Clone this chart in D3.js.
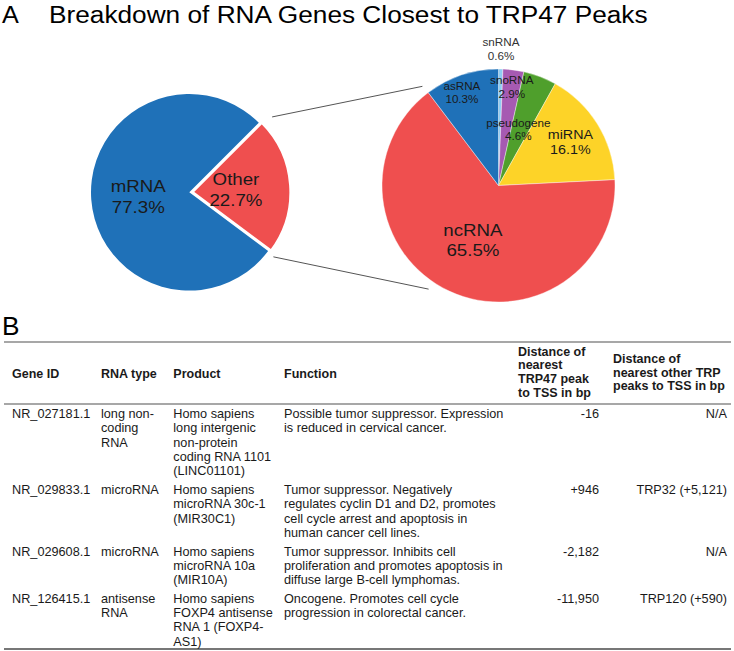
<!DOCTYPE html>
<html>
<head>
<meta charset="utf-8">
<script src="https://cdn.jsdelivr.net/npm/d3@7"></script>
<style>
  html, body { margin: 0; padding: 0; background: #fff; }
  svg { display: block; font-family: "Liberation Sans", Arial, sans-serif; }
</style>
</head>
<body>
<svg id="chart" width="734" height="651"></svg>
<script>
// ---------- DATA ----------
const mainCategories = ["Other", "mRNA"];
const mainValues = [22.7, 77.3];

const otherCategories = ["snRNA", "snoRNA", "pseudogene", "miRNA", "ncRNA", "asRNA"];
const otherValues = [0.6, 2.9, 4.6, 16.1, 65.5, 10.3];

const titleText = "Breakdown of RNA Genes Closest to TRP47 Peaks";

const tableHeaders = [
  ["Gene ID"], ["RNA type"], ["Product"], ["Function"],
  ["Distance of", "nearest", "TRP47 peak", "to TSS in bp"],
  ["Distance of", "nearest other TRP", "peaks to TSS in bp"]
];
const geneIds = ["NR_027181.1", "NR_029833.1", "NR_029608.1", "NR_126415.1"];
const rnaTypes = [["long non-", "coding", "RNA"], ["microRNA"], ["microRNA"], ["antisense", "RNA"]];
const products = [
  ["Homo sapiens", "long intergenic", "non-protein", "coding RNA 1101", "(LINC01101)"],
  ["Homo sapiens", "microRNA 30c-1", "(MIR30C1)"],
  ["Homo sapiens", "microRNA 10a", "(MIR10A)"],
  ["Homo sapiens", "FOXP4 antisense", "RNA 1 (FOXP4-", "AS1)"]
];
const functions = [
  ["Possible tumor suppressor. Expression", "is reduced in cervical cancer."],
  ["Tumor suppressor. Negatively", "regulates cyclin D1 and D2, promotes", "cell cycle arrest and apoptosis in", "human cancer cell lines."],
  ["Tumor suppressor. Inhibits cell", "proliferation and promotes apoptosis in", "diffuse large B-cell lymphomas."],
  ["Oncogene. Promotes cell cycle", "progression in colorectal cancer."]
];
const trp47Distances = ["-16", "+946", "-2,182", "-11,950"];
const otherTrpDistances = ["N/A", "TRP32 (+5,121)", "N/A", "TRP120 (+590)"];

// ---------- STYLE ----------
const svg = d3.select("#chart");
const FONT = '"Liberation Sans", Arial, sans-serif';
const SX = 1.1; // horizontal stretch of the pie/title text

const mainColors = d3.scaleOrdinal().domain(["mRNA", "Other"]).range(["#1f71b8", "#ef4f4f"]);
const otherColors = d3.scaleOrdinal().domain(otherCategories)
  .range(["#8fcdf3", "#a65ab2", "#4f9f2c", "#fdd328", "#ef4f4f", "#1f71b8"]);

function stretchedText(g, x, y, str, size, opts = {}) {
  const t = g.append("text")
    .attr("transform", `translate(${x},${y}) scale(${opts.sx || SX},1)`)
    .attr("text-anchor", opts.anchor || "middle")
    .attr("font-size", size)
    .attr("fill", opts.fill || "#1a1a1a")
    .text(str);
  return t;
}

// ---------- TITLE ----------
stretchedText(svg, 2, 23, "A", 24, { anchor: "start", sx: 1.05, fill: "#000" });
const title = svg.append("text")
  .attr("font-size", 23).attr("fill", "#000").text(titleText);
const tw = title.node().getComputedTextLength();
title.attr("transform", `translate(49,23) scale(${599 / tw},1)`);

// ---------- LEFT PIE ----------
const L = { cx: 189.3, cy: 192.3, r: 98.3 };
const pieMain = d3.pie().sort(null).value(d => d.value)
  .startAngle(Math.PI / 4).endAngle(Math.PI / 4 + 2 * Math.PI);
const mainArcs = pieMain(mainCategories.map((c, i) => ({ name: c, value: mainValues[i] })));
const arcL = d3.arc().innerRadius(0).outerRadius(L.r);
const gL = svg.append("g").attr("transform", `translate(${L.cx},${L.cy})`);
const explode = { Other: 3, mRNA: 0 };
gL.selectAll("path").data(mainArcs).join("path")
  .attr("d", arcL)
  .attr("transform", d => {
    const a = (d.startAngle + d.endAngle) / 2, e = explode[d.data.name];
    return `translate(${e * Math.sin(a)},${-e * Math.cos(a)})`;
  })
  .attr("fill", d => mainColors(d.data.name))
  .attr("stroke", "#fff").attr("stroke-width", d => d.data.name === "Other" ? 2.5 : 0);

const mainLabelLayout = { mRNA: { rf: 0.52, dy: 6.5 }, Other: { rf: 0.476, dy: 7 } };
mainArcs.forEach(d => {
  const lay = mainLabelLayout[d.data.name];
  const rr = lay.rf * L.r;
  const c = d3.arc().innerRadius(rr).outerRadius(rr).centroid(d);
  stretchedText(gL, c[0], c[1] + lay.dy - 10.5, d.data.name, 17);
  stretchedText(gL, c[0], c[1] + lay.dy + 10.5, d.data.value.toFixed(1) + "%", 17);
});

// ---------- RIGHT PIE ----------
const R = { cx: 498.5, cy: 185.5, r: 116.5 };
const pieOther = d3.pie().sort(null).value(d => d.value);
const otherArcs = pieOther(otherCategories.map((c, i) => ({ name: c, value: otherValues[i] })));
const arcR = d3.arc().innerRadius(0).outerRadius(R.r);
const gR = svg.append("g").attr("transform", `translate(${R.cx},${R.cy})`);
gR.selectAll("path").data(otherArcs).join("path")
  .attr("d", arcR)
  .attr("fill", d => otherColors(d.data.name))
  .attr("stroke", "#fff").attr("stroke-width", 0.4);

const otherLabelLayout = {
  snRNA:      { rf: 1.134, dx: 0,  dy: 0,   size: 10.6, gap: 14 },
  snoRNA:     { rf: 0.82,  dx: 1,  dy: 0,   size: 10.6, gap: 13.5 },
  pseudogene: { rf: 0.477, dx: 0,  dy: 0,   size: 10.6, gap: 13.5 },
  miRNA:      { rf: 0.706, dx: 2,  dy: 4,   size: 13,   gap: 15 },
  ncRNA:      { rf: 0.56,  dx: 2,  dy: 1,   size: 17,   gap: 20 },
  asRNA:      { rf: 0.826, dx: -6, dy: 2,   size: 10.6, gap: 13.5 }
};
otherArcs.forEach(d => {
  const lay = otherLabelLayout[d.data.name];
  const rr = lay.rf * R.r;
  const c = d3.arc().innerRadius(rr).outerRadius(rr).centroid(d);
  const x = c[0] + lay.dx, y = c[1] + lay.dy;
  const fill = d.data.name === "snRNA" ? "#333" : "#1a1a1a";
  stretchedText(gR, x, y - lay.gap / 2, d.data.name, lay.size, { fill });
  stretchedText(gR, x, y + lay.gap / 2, d.data.value.toFixed(1) + "%", lay.size, { fill });
});

// ---------- CONNECTOR LINES ----------
function polar(c, r, deg) {
  const a = deg * Math.PI / 180;
  return [c.cx + r * Math.sin(a), c.cy - r * Math.cos(a)];
}
const connectors = [
  [polar(L, 112, 47.7), polar(R, 125, 322.5)],
  [polar(L, 106, 127.5), polar(R, 125, 214)]
];
svg.selectAll("line.conn").data(connectors).join("line")
  .attr("class", "conn")
  .attr("x1", d => d[0][0]).attr("y1", d => d[0][1])
  .attr("x2", d => d[1][0]).attr("y2", d => d[1][1])
  .attr("stroke", "#555").attr("stroke-width", 1);

// ---------- SECTION B ----------
stretchedText(svg, 2, 335, "B", 25, { anchor: "start", sx: 1.05, fill: "#000" });

// ---------- TABLE ----------
const tbl = svg.append("g").attr("font-size", 12.7).attr("fill", "#1a1a1a");
const lineX0 = 4, lineX1 = 731;
const rules = [
  { y: 342, w: 1.3, c: "#8a8a8a" },
  { y: 404, w: 1.3, c: "#8a8a8a" },
  { y: 649, w: 2, c: "#777" }
];
tbl.selectAll("line").data(rules).join("line")
  .attr("x1", lineX0).attr("x2", lineX1)
  .attr("y1", d => d.y).attr("y2", d => d.y)
  .attr("stroke", d => d.c).attr("stroke-width", d => d.w);

// header
const headerX = [12, 101, 173.3, 284, 518, 613];
const headerFirstBaseline = [377.7, 377.7, 377.7, 377.7, 355.7, 363];
const headerGap = 13.7;
tableHeaders.forEach((lines, i) => {
  lines.forEach((s, j) => {
    tbl.append("text")
      .attr("x", headerX[i]).attr("y", headerFirstBaseline[i] + j * headerGap)
      .attr("font-weight", "bold").attr("font-size", 12.5)
      .text(s);
  });
});

// body
const bodyGap = 14.3, rowGap = 18.7;
const colX = [12, 101, 173.3, 284];
const rightX = [599, 727];
let baseline = 418;
geneIds.forEach((id, r) => {
  const cells = [[id], rnaTypes[r], products[r], functions[r]];
  cells.forEach((lines, i) => {
    lines.forEach((s, j) => {
      tbl.append("text").attr("x", colX[i]).attr("y", baseline + j * bodyGap).text(s);
    });
  });
  tbl.append("text").attr("x", rightX[0]).attr("y", baseline)
    .attr("text-anchor", "end").text(trp47Distances[r]);
  tbl.append("text").attr("x", rightX[1]).attr("y", baseline)
    .attr("text-anchor", "end").text(otherTrpDistances[r]);
  const nLines = d3.max(cells, c => c.length);
  baseline += (nLines - 1) * bodyGap + rowGap;
});
</script>
</body>
</html>
